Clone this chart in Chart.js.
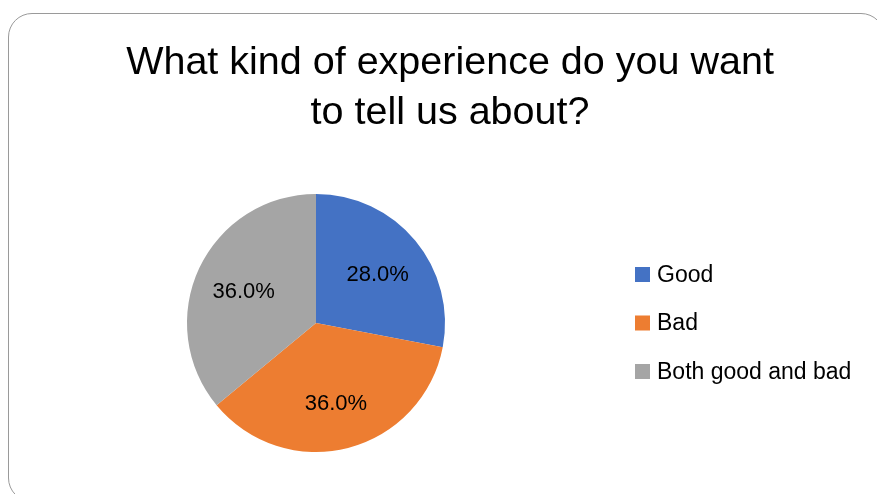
<!DOCTYPE html>
<html>
<head>
<meta charset="utf-8">
<title>What kind of experience do you want to tell us about?</title>
<script src="https://cdn.jsdelivr.net/npm/chart.js@4/dist/chart.umd.min.js"></script>
<style>
  html, body { margin: 0; padding: 0; background: #fff; overflow: hidden; }
  #wrap { position: relative; width: 877px; height: 494px; overflow: hidden; }
  #frame {
    position: absolute; left: 8px; top: 13px; width: 877px; height: 489px;
    border: 1.5px solid #9a9a9a; border-radius: 24px; box-sizing: border-box;
  }
  #c { position: absolute; left: 0; top: 0; }
</style>
</head>
<body>
<div id="wrap">
  <div id="frame"></div>
  <canvas id="c" width="877" height="494"></canvas>
</div>
<script>
// Survey answers (share of respondents, %)
const titleLines = ['What kind of experience do you want', 'to tell us about?'];
const categories = ['Good', 'Bad', 'Both good and bad'];
const shares = [28.0, 36.0, 36.0];
const sliceColors = ['#4472C4', '#ED7D31', '#A5A5A5'];

const FONT = "'Liberation Sans', Arial, sans-serif";

// Two-line heading centred across the framed panel
const panelTitle = {
  id: 'panelTitle',
  afterDraw(chart) {
    const ctx = chart.ctx;
    const centerX = 450, firstBaseline = 74, lineStep = 50;
    ctx.save();
    ctx.font = '39.5px ' + FONT;
    ctx.fillStyle = '#000';
    ctx.textAlign = 'center';
    ctx.textBaseline = 'alphabetic';
    titleLines.forEach((line, i) => ctx.fillText(line, centerX, firstBaseline + i * lineStep));
    ctx.restore();
  }
};

// Percent labels placed inside each slice along its middle angle
const sliceLabels = {
  id: 'sliceLabels',
  afterDatasetsDraw(chart) {
    const ctx = chart.ctx;
    const meta = chart.getDatasetMeta(0);
    const values = chart.data.datasets[0].data;
    ctx.save();
    ctx.font = '22px ' + FONT;
    ctx.fillStyle = '#000';
    ctx.textAlign = 'center';
    ctx.textBaseline = 'middle';
    meta.data.forEach((arc, i) => {
      const p = arc.getProps(['x', 'y', 'startAngle', 'endAngle', 'outerRadius'], true);
      const mid = (p.startAngle + p.endAngle) / 2;
      const r = p.outerRadius * 0.62;
      ctx.fillText(values[i].toFixed(1) + '%', p.x + Math.cos(mid) * r, p.y + Math.sin(mid) * r + 3);
    });
    ctx.restore();
  }
};

// Legend column to the right of the pie, vertically centred on it
const sideLegend = {
  id: 'sideLegend',
  afterDraw(chart) {
    const ctx = chart.ctx;
    const area = chart.chartArea;
    const labels = chart.data.labels;
    const colors = chart.data.datasets[0].backgroundColor;
    const box = 15, gap = 7, rowStep = 48.5;
    const x0 = area.right + 25;
    const cy = (area.top + area.bottom) / 2;
    const firstY = cy - rowStep * (labels.length - 1) / 2;
    ctx.save();
    ctx.font = '23px ' + FONT;
    ctx.textAlign = 'left';
    ctx.textBaseline = 'middle';
    labels.forEach((label, i) => {
      const y = firstY + i * rowStep;
      ctx.fillStyle = colors[i];
      ctx.fillRect(x0, y - box / 2, box, box);
      ctx.fillStyle = '#000';
      ctx.fillText(label, x0 + box + gap, y + 1);
    });
    ctx.restore();
  }
};

new Chart(document.getElementById('c'), {
  type: 'pie',
  data: {
    labels: categories,
    datasets: [{
      data: shares,
      backgroundColor: sliceColors,
      borderWidth: 0
    }]
  },
  options: {
    responsive: false,
    animation: false,
    layout: { padding: { top: 194, left: 22, right: 267, bottom: 42 } },
    plugins: {
      title: { display: false },
      legend: { display: false },
      tooltip: { enabled: false }
    }
  },
  plugins: [sliceLabels, sideLegend, panelTitle]
});
</script>
</body>
</html>
